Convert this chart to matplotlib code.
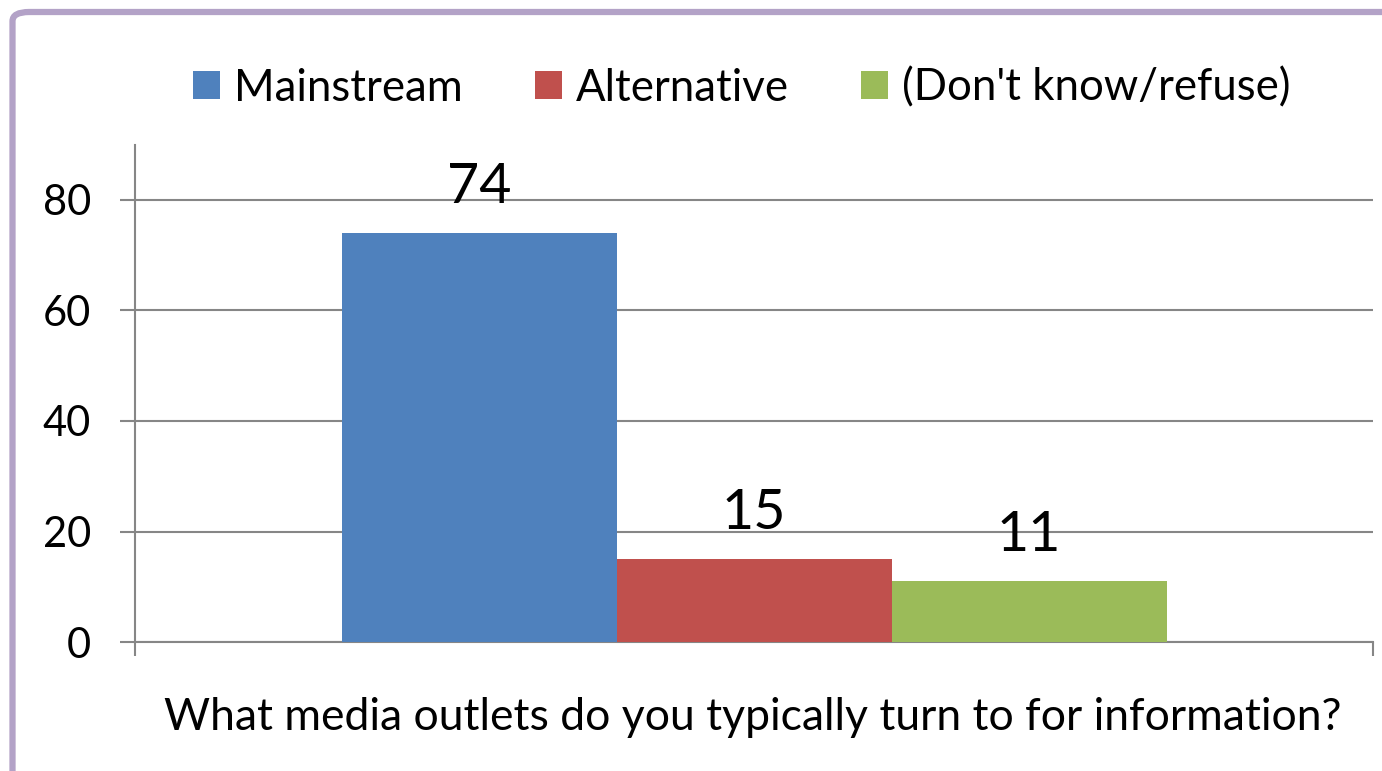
import matplotlib
matplotlib.use("Agg")
import matplotlib.pyplot as plt
from matplotlib.patches import FancyBboxPatch

# Survey answers (percent)
question = "What media outlets do you typically turn to for information?"
series = ["Mainstream", "Alternative", "(Don't know/refuse)"]
values = [74, 15, 11]
colors = ["#4F81BD", "#C0504D", "#9BBB59"]
yticks = [0, 20, 40, 60, 80]

plt.rcParams["font.family"] = ["Lato", "DejaVu Sans"]

W, H, DPI = 1382, 771, 100
fig = plt.figure(figsize=(W / DPI, H / DPI), dpi=DPI)
fig.patch.set_facecolor("white")

# Rounded purple frame running off the right and bottom edges
frame = FancyBboxPatch((12.5 / W, -0.2), 1.3, 1 - 12 / H + 0.2,
                       boxstyle="round,pad=0,rounding_size=0.012",
                       transform=fig.transFigure, facecolor="none",
                       edgecolor="#B3A2C7", linewidth=4.5, zorder=0)
fig.patches.append(frame)

left, right = 135 / W, 1373 / W
bottom = 1 - 642 / H
top = 1 - (642 - 90 * 5.525) / H
ax = fig.add_axes([left, bottom, right - left, top - bottom])

grey = "#868686"
bar_w = 275 / 1238
offsets = [-bar_w, 0, bar_w]
bars = []
for name, v, c, off in zip(series, values, colors, offsets):
    b = ax.bar(off, v, width=bar_w, color=c, label=name, zorder=3)
    bars.append(b)
    ax.annotate(str(v), (off, v), xytext=(0, 21.5), textcoords="offset points",
                ha="center", va="baseline", fontsize=40, color="black", zorder=4)

ax.set_xlim(-0.5, 0.5)
ax.set_ylim(0, 90)
ax.set_yticks(yticks)
ax.set_yticklabels([str(t) for t in yticks], fontsize=30)
ax.set_xticks([-0.5, 0.5])
ax.set_xticklabels([])
ax.grid(axis="y", color=grey, linewidth=1.5, zorder=0)
ax.set_axisbelow(True)

for s in ["top", "right"]:
    ax.spines[s].set_visible(False)
for s in ["left", "bottom"]:
    ax.spines[s].set_color(grey)
    ax.spines[s].set_linewidth(1.5)
ax.tick_params(axis="y", direction="out", length=10.8, width=1.5, color=grey, pad=21)
ax.tick_params(axis="x", direction="out", length=10, width=1.5, color=grey)

fig.text(753 / W, 1 - 730 / H, question, ha="center", va="baseline", fontsize=32)

fs_leg = 31.5
em = fs_leg * DPI / 72
fig.legend(handles=[b[0] for b in bars], labels=series, loc="center",
           bbox_to_anchor=(742 / W, 1 - 88 / H), ncol=3, frameon=False,
           fontsize=fs_leg, handlelength=27 / em, handleheight=27 / em,
           handletextpad=14 / em, columnspacing=72 / em, borderaxespad=0)

fig.savefig("out.png", dpi=DPI, facecolor="white")
